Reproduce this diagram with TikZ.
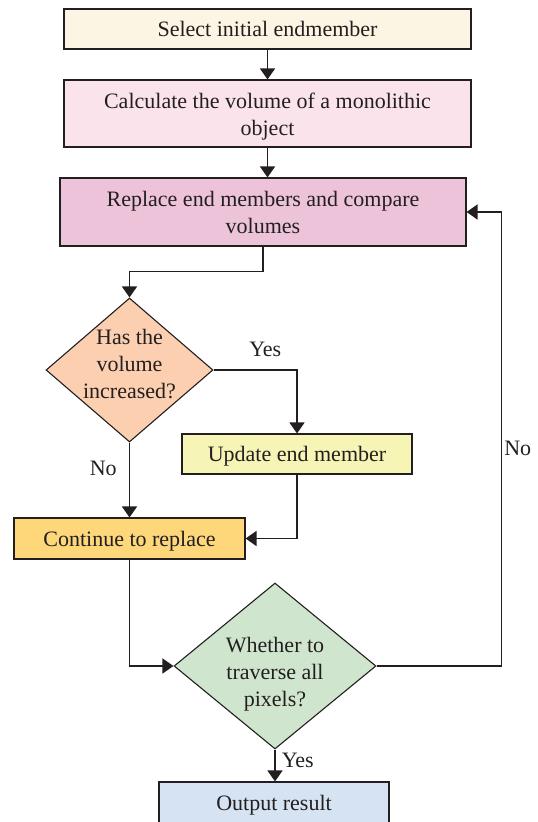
\documentclass[tikz,border=0pt]{standalone}
\usepackage{fontspec}
\setmainfont{Liberation Serif}
\usetikzlibrary{shapes.geometric,arrows.meta}
\definecolor{inkgray}{HTML}{231F20}
\definecolor{selectcream}{HTML}{FDF5E3}
\definecolor{calcpink}{HTML}{FAE3EB}
\definecolor{replacemauve}{HTML}{EDC3DA}
\definecolor{checkpeach}{HTML}{FBCFB0}
\definecolor{updateyellow}{HTML}{F6F5B5}
\definecolor{continuegold}{HTML}{FDD77A}
\definecolor{traversegreen}{HTML}{CFE5CD}
\definecolor{outputblue}{HTML}{D5E3F2}

\begin{document}
\begin{tikzpicture}[x=1pt,y=-1pt,
    box/.style={rectangle, draw=inkgray, line width=1.1pt, inner sep=0pt,
      align=center, text=inkgray, font=\fontsize{22}{27}\selectfont},
    decision/.style={diamond, draw=inkgray, line width=1.1pt, inner sep=-20pt,
      align=center, text=inkgray, font=\fontsize{22}{27}\selectfont},
    flow/.style={draw=inkgray, line width=1.5pt,
      -{Triangle[width=15pt,length=11pt]}},
    answer/.style={inner sep=2pt, text=inkgray, font=\fontsize{22}{27}\selectfont}]
    \useasboundingbox (0,0) rectangle (538,822);

    % Steps
    \node[box, fill=selectcream, minimum width=407, minimum height=40, text depth=0pt]
        (select) at (267.5,29) {Select initial endmember};
    \node[box, fill=calcpink, minimum width=407, minimum height=67]
        (calc) at (267.5,113.5) {\rule{0pt}{21pt}Calculate the volume of a monolithic\\object};
    \node[box, fill=replacemauve, minimum width=406, minimum height=68]
        (replace) at (263,212) {Replace end members and compare\\volumes};

    % First decision
    \node[decision, fill=checkpeach, minimum width=167, minimum height=144]
        (check) at (129.5,370) {Has the\\volume\\increased?\rule[-12pt]{0pt}{0pt}};
    \node[box, fill=updateyellow, minimum width=230, minimum height=40, text depth=0pt]
        (update) at (297,454) {Update end member};
    \node[box, fill=continuegold, minimum width=231, minimum height=41, text depth=0pt]
        (continue) at (129.5,538.5) {Continue to replace};

    % Second decision
    \node[decision, fill=traversegreen, minimum width=202, minimum height=166]
        (traverse) at (275,666) {\rule{0pt}{31pt}Whether to\\traverse all\\pixels?};
    \node[box, fill=outputblue, minimum width=230, minimum height=42, text depth=0pt]
        (output) at (274,803) {Output result};

    % Connectors
    \draw[flow] (select) -- (calc);
    \draw[flow] (calc.south) -- (calc.south |- replace.north);
    \draw[flow] (replace.south) -- ++(0,25) -| (check.north);
    \draw[flow] (check.east) -| node[answer, pos=0.31, above=11pt] {Yes} (update.north);
    \draw[flow] (check.south) -- node[answer, pos=0.34, left=10pt] {No} (continue.north);
    \draw[flow] (update.south) |- (continue.east);
    \draw[flow] (continue.south) |- (traverse.west);
    \draw[flow] (traverse.east) -- ++(125,0) |- node[answer, pos=0.24, right] {No} (replace.east);
    \draw[flow] (traverse.south) -- node[answer, pos=0.33, right=4pt] {Yes} (traverse.south |- output.north);
\end{tikzpicture}
\end{document}
